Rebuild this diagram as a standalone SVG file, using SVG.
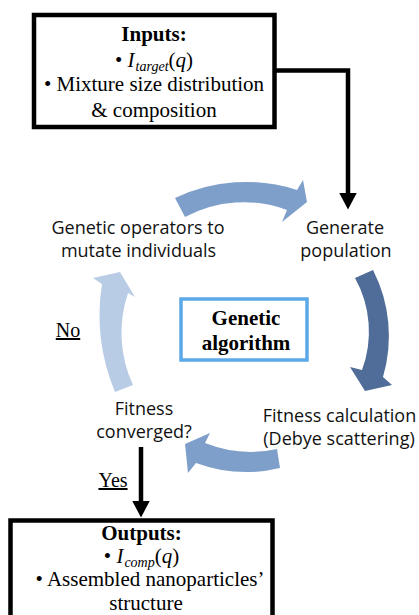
<svg xmlns="http://www.w3.org/2000/svg" width="419" height="615" viewBox="0 0 419 615">
<style>
.box{fill:#fff;stroke:#000;stroke-width:4.5}
.ga{fill:#fff;stroke:#5ba9e8;stroke-width:3.5}
.serif{font-family:"Liberation Serif","Times New Roman",serif;font-size:21px;fill:#000;text-anchor:middle}
.b{font-weight:bold}
.sans{font-family:"Open Sans","Noto Sans",sans-serif;font-size:18px;fill:#111;text-anchor:middle}
.lbl{font-family:"Liberation Serif","Times New Roman",serif;font-size:20px;fill:#000;text-anchor:middle;text-decoration:underline}
.conn{fill:none;stroke:#000;stroke-width:4.5;stroke-linejoin:miter}
.mid{fill:#7f9fcb}
.dark{fill:#4f6d98}
.light{fill:#b9cce5}
</style>
<defs>
<marker id="ah" viewBox="0 0 17 18" refX="0.5" refY="9" markerWidth="17" markerHeight="18" markerUnits="userSpaceOnUse" orient="auto">
<path d="M0,0 L17,9 L0,18 Z" fill="#000"/>
</marker>
</defs>
<rect width="419" height="615" fill="#fff"/>
<g id="connectors">
<polyline class="conn" points="276,70.5 348,70.5 348,193" marker-end="url(#ah)"/>
<line class="conn" x1="141" y1="447" x2="141" y2="501" marker-end="url(#ah)"/>
<g id="cycle">
<path class="mid" d="M185,217 A124,124 0 0 1 287,210 L282,222 L307,202 L303,180 L297,190 A165,165 0 0 0 175,198 Z"/>
<path class="dark" d="M373,270 A145,145 0 0 1 383,377 L392,385 L365,391 L350,367 L362,370 A110,110 0 0 0 355,278 Z"/>
<path class="mid" d="M277,449 A124,124 0 0 1 205,443 L210,433 L185,444 L188,473 L196,463 A145,145 0 0 0 280,468 Z"/>
<path class="light" d="M115,392 A200,200 0 0 1 102,284 L93,278 L120,272 L135,297 L128,293 A124,124 0 0 0 133,385 Z"/>
</g>
</g>
<g id="inputs">
<rect class="box" x="34" y="15" width="240.5" height="112"/>
<text class="serif b" x="154" y="41">Inputs:</text>
<text class="serif" x="154" y="67">• <tspan font-style="italic">I</tspan><tspan font-style="italic" font-size="14" dx="1" dy="4">target</tspan><tspan dy="-4">(</tspan><tspan font-style="italic">q</tspan>)</text>
<text class="serif" x="154" y="91">• Mixture size distribution</text>
<text class="serif" x="154" y="117">&amp; composition</text>
</g>
<g id="generate">
<text class="sans" x="345" y="234">Generate</text>
<text class="sans" x="346" y="257">population</text>
</g>
<g id="fitness-calc">
<text class="sans" x="339.5" y="422">Fitness calculation</text>
<text class="sans" x="339" y="445">(Debye scattering)</text>
</g>
<g id="converged">
<text class="sans" x="144" y="415">Fitness</text>
<text class="sans" x="144" y="438">converged?</text>
</g>
<g id="operators">
<text class="sans" x="138" y="234">Genetic operators to</text>
<text class="sans" x="138.5" y="257">mutate individuals</text>
</g>
<g id="genetic-algorithm">
<rect class="ga" x="181" y="299" width="126" height="61"/>
<text class="serif b" x="246" y="325">Genetic</text>
<text class="serif b" x="246" y="350">algorithm</text>
</g>
<g id="label-no"><text class="lbl" x="68" y="337">No</text></g>
<g id="label-yes"><text class="lbl" x="113" y="487">Yes</text></g>
<g id="outputs">
<rect class="box" x="10.5" y="520.5" width="262" height="110"/>
<text class="serif b" x="141.5" y="540">Outputs:</text>
<text class="serif" x="141.5" y="563">• <tspan font-style="italic">I</tspan><tspan font-style="italic" font-size="14" dx="1" dy="4">comp</tspan><tspan dy="-4">(</tspan><tspan font-style="italic">q</tspan>)</text>
<text class="serif" x="150" y="586">• Assembled nanoparticles’</text>
<text class="serif" x="146" y="610">structure</text>
</g>
</svg>
